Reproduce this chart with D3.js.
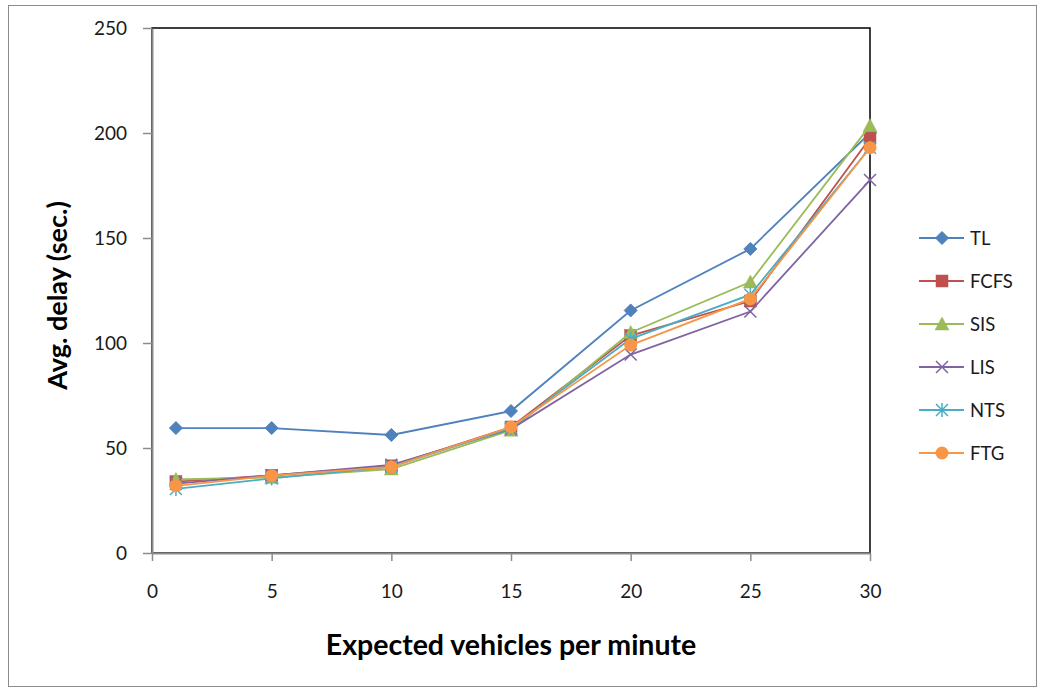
<!DOCTYPE html>
<html>
<head>
<meta charset="utf-8">
<script src="https://cdn.jsdelivr.net/npm/d3@7"></script>
<style>
  html, body { margin: 0; padding: 0; background: #fff; }
  svg text { font-family: Lato, "Open Sans", "Liberation Sans", sans-serif; }
</style>
</head>
<body>
<svg id="chart" width="1045" height="693"></svg>
<script>
// Vehicles per minute (x values)
const xValues = [1, 5, 10, 15, 20, 25, 30];

// Average delay (sec.) per scheduling policy
const seriesNames = ["TL", "FCFS", "SIS", "LIS", "NTS", "FTG"];
const tl   = [59.5, 59.5, 56.2, 67.6, 115.5, 144.8, 200];
const fcfs = [34, 37, 41.5, 60, 103.5, 120, 197.5];
const sis  = [35, 36, 40, 58.5, 105, 129, 203.5];
const lis  = [33, 37, 42, 59, 94.5, 115, 177.6];
const nts  = [30.5, 35.5, 41, 59.5, 102, 123, 193];
const ftg  = [32, 36.8, 41, 60, 99, 121, 193];

const xTicks = [0, 5, 10, 15, 20, 25, 30];
const yTicks = [0, 50, 100, 150, 200, 250];

const colors = ["#4F81BD", "#C0504D", "#9BBB59", "#8064A2", "#4BACC6", "#F79646"];
const markers = ["diamond", "square", "triangle", "cross", "star", "circle"];
const seriesData = [tl, fcfs, sis, lis, nts, ftg];

const svg = d3.select("#chart");

// Outer chart frame
svg.append("rect")
  .attr("x", 8.5).attr("y", 5.5).attr("width", 1028).attr("height", 681)
  .attr("fill", "#fff").attr("stroke", "#8c8c8c").attr("stroke-width", 1);

const plot = { left: 152, right: 870, top: 28, bottom: 553 };

const x = d3.scaleLinear().domain([0, 30]).range([plot.left, plot.right]);
const y = d3.scaleLinear().domain([0, 250]).range([plot.bottom, plot.top]);

// Plot area border (top/right)
svg.append("rect")
  .attr("x", plot.left).attr("y", plot.top)
  .attr("width", plot.right - plot.left).attr("height", plot.bottom - plot.top)
  .attr("fill", "none").attr("stroke", "#000").attr("stroke-width", 1.5);

// Axes
const yAxis = d3.axisLeft(y).tickValues(yTicks).tickSizeInner(9).tickSizeOuter(0).tickPadding(16);
const xAxis = d3.axisBottom(x).tickValues(xTicks).tickSizeInner(8).tickSizeOuter(0).tickPadding(24);

const gy = svg.append("g").attr("transform", `translate(${plot.left},0)`).call(yAxis);
const gx = svg.append("g").attr("transform", `translate(0,${plot.bottom})`).call(xAxis);

[gy, gx].forEach(g => {
  g.select(".domain").attr("stroke", "#8c8c8c").attr("stroke-width", 2);
  g.selectAll(".tick line").attr("stroke", "#8c8c8c").attr("stroke-width", 1.5);
  g.selectAll(".tick text").attr("fill", "#1a1a1a").style("font-size", "19px");
});

// Axis titles
svg.append("text")
  .attr("transform", `translate(67,${(plot.top + plot.bottom) / 2 + 5}) rotate(-90)`)
  .attr("text-anchor", "middle")
  .style("font-size", "27px").style("font-weight", "bold").attr("fill", "#000")
  .text("Avg. delay (sec.)");

svg.append("text")
  .attr("x", 511).attr("y", 655)
  .attr("text-anchor", "middle")
  .style("font-size", "28.5px").style("font-weight", "bold").attr("fill", "#000")
  .text("Expected vehicles per minute");

// Marker drawing
function drawMarker(g, type, color, cx, cy) {
  const s = 6.5;
  if (type === "diamond") {
    g.append("path").attr("d", `M${cx},${cy - s}L${cx + s},${cy}L${cx},${cy + s}L${cx - s},${cy}Z`)
      .attr("fill", color).attr("stroke", color).attr("stroke-width", 1);
  } else if (type === "square") {
    g.append("rect").attr("x", cx - 6).attr("y", cy - 6).attr("width", 12).attr("height", 12)
      .attr("fill", color).attr("stroke", color).attr("stroke-width", 0.5);
  } else if (type === "triangle") {
    g.append("path").attr("d", `M${cx},${cy - 7}L${cx + 7},${cy + 6}L${cx - 7},${cy + 6}Z`)
      .attr("fill", color).attr("stroke", color).attr("stroke-width", 0.5);
  } else if (type === "cross") {
    g.append("path").attr("d", `M${cx - 6},${cy - 6}L${cx + 6},${cy + 6}M${cx - 6},${cy + 6}L${cx + 6},${cy - 6}`)
      .attr("stroke", color).attr("stroke-width", 1.5).attr("fill", "none");
  } else if (type === "star") {
    g.append("path").attr("d",
      `M${cx - 6},${cy - 6}L${cx + 6},${cy + 6}M${cx - 6},${cy + 6}L${cx + 6},${cy - 6}M${cx},${cy - 7}L${cx},${cy + 7}`)
      .attr("stroke", color).attr("stroke-width", 1.5).attr("fill", "none");
  } else if (type === "circle") {
    g.append("circle").attr("cx", cx).attr("cy", cy).attr("r", 6.5).attr("fill", color);
  }
}

const line = d3.line().x(d => x(d[0])).y(d => y(d[1]));

seriesData.forEach((vals, i) => {
  const g = svg.append("g");
  const pts = xValues.map((xv, j) => [xv, vals[j]]);
  g.append("path").datum(pts).attr("d", line)
    .attr("fill", "none").attr("stroke", colors[i]).attr("stroke-width", 1.8);
  pts.forEach(p => drawMarker(g, markers[i], colors[i], x(p[0]), y(p[1])));
});

// Legend
const legend = svg.append("g");
seriesNames.forEach((name, i) => {
  const ly = 238 + i * 43;
  legend.append("line").attr("x1", 919).attr("x2", 964).attr("y1", ly).attr("y2", ly)
    .attr("stroke", colors[i]).attr("stroke-width", 1.8);
  drawMarker(legend, markers[i], colors[i], 942, ly);
  legend.append("text").attr("x", 970).attr("y", ly + 7)
    .style("font-size", "18.5px").attr("fill", "#1a1a1a").text(name);
});
</script>
</body>
</html>
